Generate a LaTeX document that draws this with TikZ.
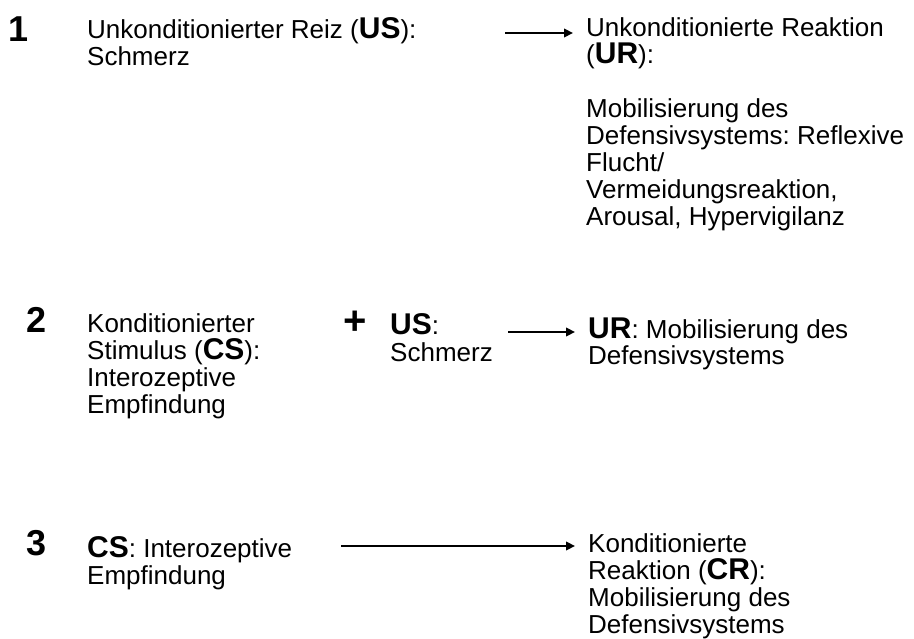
\documentclass[tikz,border=0pt]{standalone}
\usepackage{fontspec}
\setmainfont{Liberation Sans}
\usetikzlibrary{arrows.meta}
\newcommand{\kb}[1]{{\fontsize{30}{27}\selectfont\bfseries #1}}

\begin{document}
\begin{tikzpicture}[x=1pt,y=1pt,
num/.style={anchor=base west,inner sep=0pt,font=\fontsize{36}{36}\selectfont\bfseries},
txt/.style={anchor=base west,inner sep=0pt,align=flush left,text width=#1,
  font=\fontsize{26}{27}\selectfont,execute at begin node={\lineskiplimit=-20pt\frenchspacing}},
txt/.default=330pt,
arr/.style={-{Triangle[length=9pt,width=8.5pt]},line width=2.8pt,shorten >=13pt}
]
\useasboundingbox (0,0) rectangle (914,-639);
% Zeile 1
\node[num] (eins) at (8,-42) {1};
\node[txt=400pt] (us) at (87,-39) {Unkonditionierter Reiz (\kb{US}):\\Schmerz};
\node[txt] (ur) at (586,-37) {Unkonditionierte Reaktion\\(\kb{UR}):\\[27pt]Mobilisierung des\\Defensivsystems: Reflexive\\Flucht/\\Vermeidungsreaktion,\\Arousal, Hypervigilanz};
\coordinate (p1) at (505,-33);
\draw[arr] (p1) -- (p1 -| ur.west);
% Zeile 2
\node[num] (zwei) at (26,-333) {2};
\node[txt=280pt] (cs) at (87,-333) {Konditionierter\\Stimulus (\kb{CS}):\\Interozeptive\\Empfindung};
\node[font=\fontsize{40}{40}\selectfont\bfseries,inner sep=0pt] (plus) at (355,-323) {+};
\node[txt=110pt] (us2) at (390,-335) {\kb{US}:\\Schmerz};
\node[txt] (ur2) at (588,-338) {\kb{UR}: Mobilisierung des\\Defensivsystems};
\coordinate (p2) at (508,-332);
\draw[arr] (p2) -- (p2 -| ur2.west);
% Zeile 3
\node[num] (drei) at (26,-555) {3};
\node[txt=240pt] (cs3) at (87,-557) {\kb{CS}: Interozeptive\\Empfindung};
\node[txt=300pt] (cr) at (588,-552) {Konditionierte\\Reaktion (\kb{CR}):\\Mobilisierung des\\Defensivsystems};
\coordinate (p3) at (341,-546);
\draw[arr] (p3) -- (p3 -| cr.west);
\end{tikzpicture}
\end{document}
